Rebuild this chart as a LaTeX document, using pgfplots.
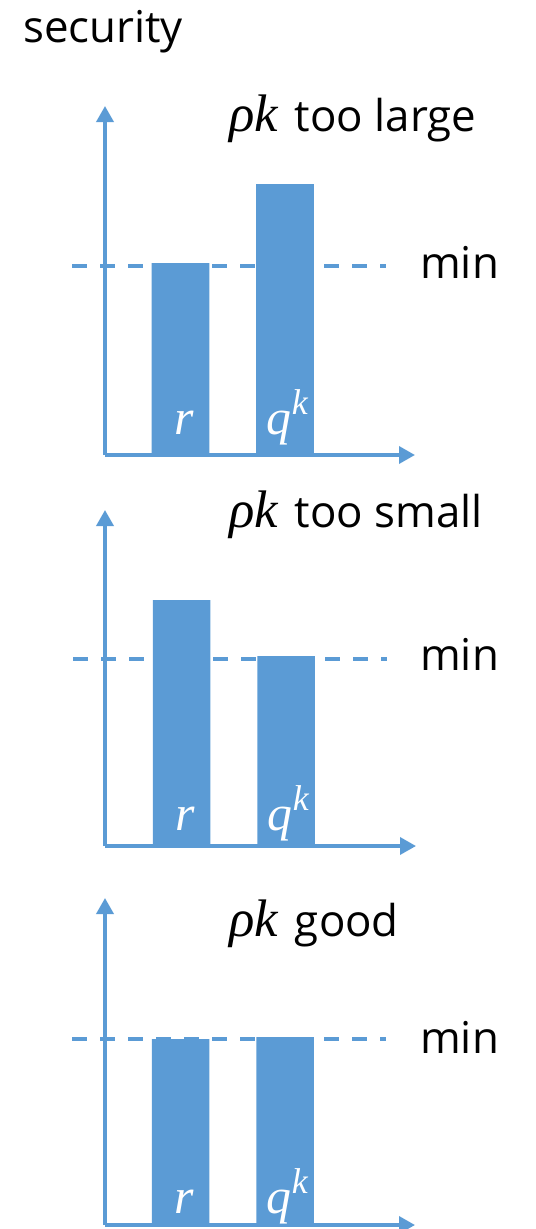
\documentclass[border=0pt]{standalone}
\usepackage{fontspec}
\setmainfont{Open Sans}
\newfontfamily\mi{Liberation Serif}
\usepackage{pgfplots}
\pgfplotsset{compat=1.18}
\usetikzlibrary{arrows.meta}
\definecolor{obl}{HTML}{5B9BD5}
\newcommand\T{\fontsize{44}{50}\selectfont}
\newcommand\Mk{{\fontsize{53}{55}\selectfont\mi\itshape ρk}\hspace*{17bp}}
\newcommand\Rlab{{\color{white}\fontsize{50}{52}\selectfont\mi\itshape r}}
\newcommand\Qlab{{\color{white}\fontsize{50}{52}\selectfont\mi\itshape q\hspace{1bp}\raisebox{20bp}{\fontsize{36}{36}\selectfont k}}}
\pgfplotsset{
  panel/.style={
    x=1bp, y=1bp, axis lines=left, xtick=\empty, ytick=\empty,
    enlargelimits=false, clip=false, anchor=south west,
    axis line style={draw=obl, line width=3.5bp},
    x axis line style={-{Triangle[length=16bp,width=17bp]}},
    y axis line style={-{Triangle[length=16bp,width=17bp]}},
  },
  bars/.style={ybar, bar width=57.5bp, bar shift=0pt, fill=obl, draw=none},
  minline/.style={obl, line width=4.5bp, dash pattern=on 15bp off 13bp, no marks},
}
\begin{document}
\begin{tikzpicture}
\path[use as bounding box] (0,0) rectangle (536bp,-1229bp);
% panel 1
\begin{axis}[panel, at={(105bp,-455bp)}, xmin=105, xmax=415, ymin=0, ymax=349]
\addplot[bars] coordinates {(180.5,192) (285,271)};
\addplot[minline] coordinates {(72,189) (386,189)};
\node[anchor=base, inner sep=0pt] at (axis cs:184,21) {\Rlab};
\node[anchor=base, inner sep=0pt] at (axis cs:287,21) {\Qlab};
\node[anchor=base west, inner sep=0pt, font=\T] at (axis cs:229,324) {\Mk too large};
\node[anchor=base west, inner sep=0pt, font=\T] at (axis cs:420,177) {min};
\node[anchor=base west, inner sep=0pt, font=\T] at (axis cs:23,413) {security};
\end{axis}
% panel 2
\begin{axis}[panel, at={(105bp,-846bp)}, xmin=105, xmax=416, ymin=0, ymax=336]
\addplot[bars] coordinates {(181.5,246) (286,190)};
\addplot[minline] coordinates {(73,187) (387,187)};
\node[anchor=base, inner sep=0pt] at (axis cs:185,16) {\Rlab};
\node[anchor=base, inner sep=0pt] at (axis cs:288,16) {\Qlab};
\node[anchor=base west, inner sep=0pt, font=\T] at (axis cs:229,319) {\Mk too small};
\node[anchor=base west, inner sep=0pt, font=\T] at (axis cs:420,176) {min};
\end{axis}
% panel 3
\begin{axis}[panel, at={(105bp,-1225bp)}, xmin=105, xmax=415, ymin=0, ymax=327]
\addplot[bars] coordinates {(180.5,186) (285,188)};
\addplot[minline] coordinates {(72,186) (386,186)};
\node[anchor=base, inner sep=0pt] at (axis cs:184,12) {\Rlab};
\node[anchor=base, inner sep=0pt] at (axis cs:287,12) {\Qlab};
\node[anchor=base west, inner sep=0pt, font=\T] at (axis cs:229,289) {\Mk good};
\node[anchor=base west, inner sep=0pt, font=\T] at (axis cs:420,172) {min};
\end{axis}
\end{tikzpicture}
\end{document}
